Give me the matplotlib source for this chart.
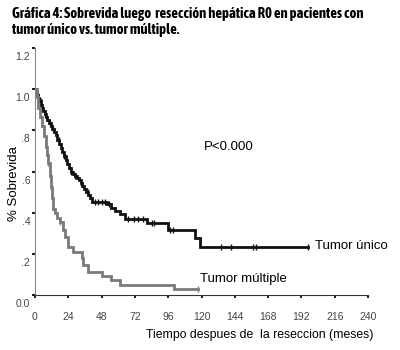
import numpy as np
import matplotlib
matplotlib.use("Agg")
import matplotlib.pyplot as plt
import matplotlib.transforms as mtransforms

# Kaplan-Meier steps (months, survival)
unico_t = [0, 0.8, 1.6, 2.4, 3.2, 4.2, 5.0, 6.0, 7.0, 8.0, 9.0, 10.0, 11.2, 12.4, 13.6,
           14.8, 16.0, 17.2, 18.4, 19.6, 20.8, 22.0, 23.2, 24.4, 25.8, 27.2, 28.6, 30.0,
           31.4, 32.8, 34.2, 35.6, 37.0, 38.4, 39.8, 41.0, 52, 55, 58, 61, 65, 80.5, 96,
           115, 119]
unico_s = [1.0, 0.985, 0.97, 0.955, 0.94, 0.925, 0.91, 0.895, 0.88, 0.865, 0.85, 0.835,
           0.82, 0.805, 0.79, 0.775, 0.755, 0.735, 0.715, 0.695, 0.675, 0.655, 0.635,
           0.615, 0.60, 0.59, 0.58, 0.57, 0.56, 0.545, 0.53, 0.515, 0.50, 0.485, 0.47,
           0.453, 0.44, 0.425, 0.41, 0.395, 0.37, 0.348, 0.316, 0.275, 0.234]
unico_end = 197
unico_cens = [2, 4, 7, 11, 13, 17, 21, 26, 29, 33, 38, 43, 45.4, 48, 50.5, 53, 67, 71,
              74, 78, 84, 86, 97, 99.5, 134, 141, 157, 159, 197]

multiple_t = [0, 1.2, 2.4, 3.6, 5.0, 6.4, 7.6, 8.6, 9.6, 10.6, 11.5, 12.4, 13.2, 14.4,
              16.0, 18.0, 20.4, 21.6, 24.0, 27.6, 33.6, 34.8, 38.4, 48.0, 55.0, 61.0, 100.0]
multiple_s = [1.0, 0.96, 0.91, 0.865, 0.82, 0.77, 0.72, 0.68, 0.64, 0.58, 0.525, 0.47,
              0.42, 0.40, 0.375, 0.356, 0.316, 0.283, 0.234, 0.21, 0.178, 0.146, 0.113,
              0.092, 0.073, 0.049, 0.028]
multiple_end = 117.5
multiple_cens = [9.6, 11.5, 18, 117.5]

x_ticks = list(range(0, 241, 24))
y_ticks = [0, 0.2, 0.4, 0.6, 0.8, 1.0, 1.2]
y_labels = ["0.0", ".2", ".4", ".6", ".8", "1.0", "1.2"]

font = ["Liberation Sans", "DejaVu Sans"]
title_font = ["Asap Condensed", "Liberation Sans", "DejaVu Sans"]


def km(ax, t, s, end, cens, color):
    tt = list(t) + [end]
    ss = list(s) + [s[-1]]
    ax.plot(tt, ss, drawstyle="steps-post", color=color, lw=2, solid_joinstyle="miter")
    idx = np.searchsorted(t, cens, side="right") - 1
    ax.plot(cens, np.array(s)[idx], ls="none", marker="|", ms=5, mew=1,
            color=color)


fig = plt.figure(figsize=(4, 3.5), dpi=100)
ax = fig.add_axes([0.0875, 0.157, 0.8325, 0.706])

km(ax, unico_t, unico_s, unico_end, unico_cens, "#111111")
km(ax, multiple_t, multiple_s, multiple_end, multiple_cens, "#7a7a7a")

ax.set_xlim(0, 240)
ax.set_ylim(0, 1.2)
ax.set_xticks(x_ticks)
ax.set_yticks(y_ticks)
ax.set_yticklabels(y_labels)
for sp in ["top", "right"]:
    ax.spines[sp].set_visible(False)
ax.spines["left"].set_color("#888888")
ax.spines["bottom"].set_color("#333333")
ax.tick_params(length=2, width=1.5, color="#222222", labelsize=7.5,
               labelcolor="#444444")
ax.tick_params(axis="x", pad=10)
ax.tick_params(axis="y", pad=1.5)
# the original's y labels sit a bit below their ticks
shift = mtransforms.ScaledTranslation(0, -0.08, fig.dpi_scale_trans)
for lab in ax.get_yticklabels():
    lab.set_transform(lab.get_transform() + shift)
for lab in ax.get_xticklabels() + ax.get_yticklabels():
    lab.set_family(font)

ax.text(122, 0.72, "P<0.000", fontsize=9.5, family=font, va="center")
ax.text(202, 0.24, "Tumor único", fontsize=9.5, family=font, va="center")
ax.text(119, 0.08, "Tumor múltiple", fontsize=9.5, family=font, va="center")

fig.text(0.036, 0.475, "% Sobrevida", rotation=90, fontsize=9.5, family=font,
         va="center", ha="center")
fig.text(0.65, 0.043, "Tiempo despues de  la reseccion (meses)", fontsize=8.8,
         family=font, va="center", ha="center")

title = ("Gráfica 4: Sobrevida luego  resección hepática R0 en pacientes con\n"
         "tumor único vs. tumor múltiple.")
fig.text(0.03, 0.98, title, fontsize=10.5, fontweight="bold",
         family=title_font, va="top", ha="left", linespacing=1.2)

fig.savefig("out.png", dpi=100)
